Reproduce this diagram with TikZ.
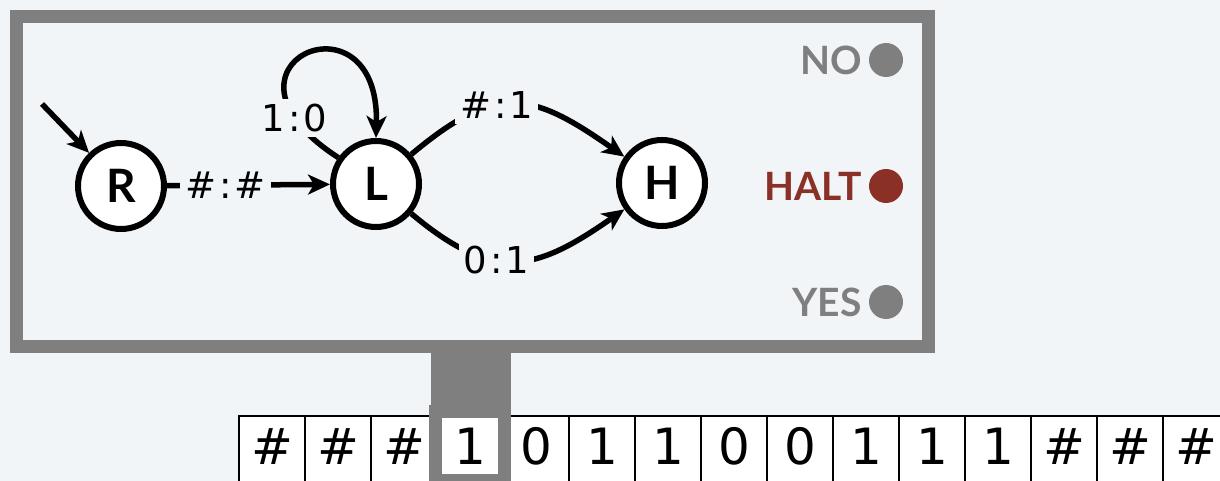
\documentclass[tikz,border=0pt]{standalone}
\usepackage{fontspec}
\setmainfont{DejaVu Sans}
\newfontfamily\statefont{Lato}
\usetikzlibrary{arrows.meta,positioning}
\definecolor{bgcol}{HTML}{F2F5F8}
\definecolor{framecol}{HTML}{7F7F7F}
\definecolor{haltcol}{HTML}{8B3026}
\newcommand*{\sep}{\kern3pt}

\begin{document}
\begin{tikzpicture}
        [x=1pt,y=-1pt,
          statedecorate/.style={shape=circle,draw,line width=6pt,fill=white,minimum size=86pt,inner sep=0pt,%
            font=\statefont\bfseries\fontsize{46}{46}\selectfont},%
          linedecorate/.style={line width=5.5pt,-{Stealth[length=22pt,width=20pt,inset=6pt]}},%
          labeldecorate/.style={fill=bgcol,inner sep=5pt,font=\fontsize{37}{37}\selectfont},%
          lampdecorate/.style={shape=circle,minimum size=34pt,inner sep=0pt},%
          lamptext/.style={inner sep=0pt,font=\statefont\bfseries\fontsize{39}{39}\selectfont},%
          celldecorate/.style={draw,line width=1.4pt,fill=white,minimum width=66pt,minimum height=70pt,%
            text height=36pt,text depth=10pt,font=\fontsize{50}{50}\selectfont}]
        \useasboundingbox[fill=bgcol] (0,0) rectangle (1220,481);
        %% machine box and stem
        \draw[framecol,line width=13pt] (16.5,16.5) rectangle (928.5,346.5);
        \fill[framecol] (431,346) rectangle (511,410);
        %% states
        \foreach \nodename/\x/\y in {R/121/186, L/376/184, H/662/183}
        {
          \node (\nodename) at (\x,\y) [statedecorate] {\nodename};
        }
        \coordinate (start) at (42,104);
        %% transitions
        \draw[linedecorate] (start) -- (R);
        \draw[linedecorate] (R) -- node[labeldecorate,pos=0.36] {\#\sep:\sep\#} (L);
        \draw[linedecorate] (L.145) .. controls (195,65) and (380,-15) .. (L.90)
          node[labeldecorate,pos=0.15] {1\sep:\sep0};
        \draw[linedecorate] (L) to[out=40,in=145,looseness=1.35] node[labeldecorate,pos=0.4] {\#\sep:\sep1} (H);
        \draw[linedecorate] (L) to[out=-40,in=-145,looseness=1.3] node[labeldecorate,pos=0.4] {0\sep:\sep1} (H);
        %% lamps
        \foreach \lampname/\y/\col/\txt in {no/60/framecol/NO, halt/186/haltcol/HALT, yes/302/framecol/YES}
        {
          \node (\lampname) at (886,\y) [lampdecorate,fill=\col] {};
          \node (\lampname-text) [lamptext,text=\col,left=7pt of \lampname] {\txt};
        }
        %% tape
        \foreach \sym [count=\i] in {\#,\#,\#,1,0,1,1,0,0,1,1,1,\#,\#,\#}
        {
          \node (cell\i) at ({239+66*(\i-1)+33},451) [celldecorate] {\sym};
        }
        %% head
        \node (head) at ([yshift=5pt]cell4.center) [draw=framecol,line width=13pt,minimum width=69pt,minimum height=69pt,inner sep=0pt] {};
        \end{tikzpicture}
\end{document}
